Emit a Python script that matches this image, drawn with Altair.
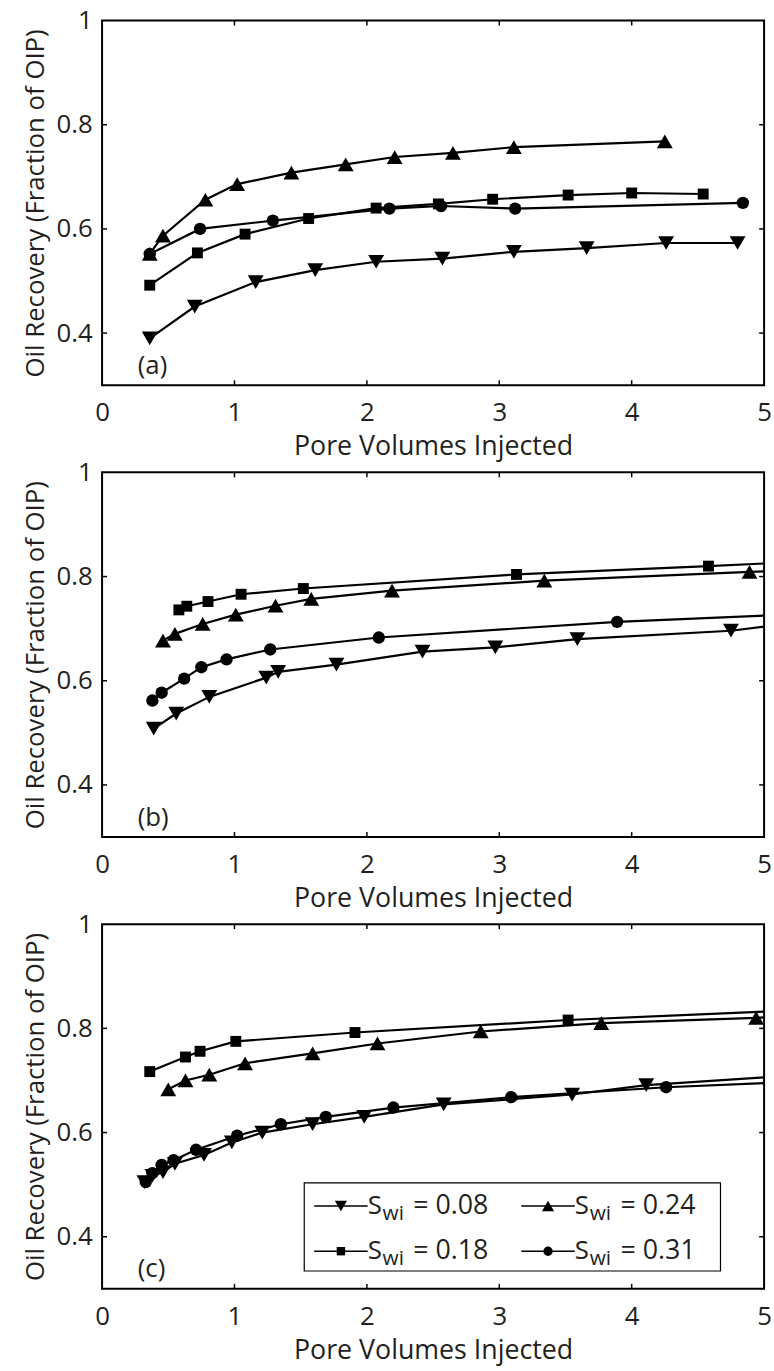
import altair as alt
import pandas as pd

# ---------------- data ----------------
SERIES = ["0.08", "0.18", "0.24", "0.31"]
SHAPES = ["triangle-down", "square", "triangle-up", "circle"]
X_TICKS = [0, 1, 2, 3, 4, 5]
Y_TICKS = [0.4, 0.6, 0.8, 1.0]
X_INNER = [1, 2, 3, 4]
Y_INNER = [0.4, 0.6, 0.8]
PANEL_TAGS = ["(a)", "(b)", "(c)"]

# panel (a)
A_X_008 = [0.36, 0.70, 1.16, 1.61, 2.07, 2.57, 3.11, 3.66, 4.26, 4.80]
A_Y_008 = [0.390, 0.451, 0.498, 0.521, 0.537, 0.543, 0.556, 0.563, 0.573, 0.573]
A_X_018 = [0.36, 0.72, 1.08, 1.56, 2.07, 2.54, 2.95, 3.52, 4.00, 4.54]
A_Y_018 = [0.492, 0.554, 0.590, 0.620, 0.640, 0.648, 0.657, 0.665, 0.669, 0.667]
A_X_024 = [0.36, 0.46, 0.78, 1.02, 1.43, 1.84, 2.21, 2.65, 3.11, 4.25]
A_Y_024 = [0.552, 0.587, 0.656, 0.686, 0.708, 0.724, 0.738, 0.746, 0.757, 0.768]
A_X_031 = [0.36, 0.74, 1.29, 2.17, 2.56, 3.12, 4.84]
A_Y_031 = [0.552, 0.600, 0.616, 0.639, 0.644, 0.639, 0.650]

# panel (b)  (lines continue to the right edge at x = 5)
B_X_008 = [0.39, 0.56, 0.81, 1.24, 1.33, 1.77, 2.42, 2.97, 3.59, 4.75]
B_Y_008 = [0.508, 0.537, 0.569, 0.606, 0.617, 0.631, 0.656, 0.664, 0.680, 0.696]
B_X_018 = [0.58, 0.64, 0.80, 1.05, 1.52, 3.13, 4.58]
B_Y_018 = [0.736, 0.743, 0.752, 0.766, 0.777, 0.804, 0.820]
B_X_024 = [0.46, 0.55, 0.76, 1.01, 1.31, 1.58, 2.19, 3.34, 4.89]
B_Y_024 = [0.677, 0.690, 0.709, 0.727, 0.744, 0.757, 0.773, 0.792, 0.809]
B_X_031 = [0.38, 0.45, 0.62, 0.75, 0.94, 1.27, 2.09, 3.89]
B_Y_031 = [0.562, 0.577, 0.604, 0.626, 0.641, 0.660, 0.683, 0.713]
B_EDGE = [0.704, 0.825, 0.810, 0.725]

# panel (c)
C_X_008 = [0.32, 0.38, 0.46, 0.55, 0.77, 0.98, 1.21, 1.59, 1.98, 2.58, 3.55, 4.11]
C_Y_008 = [0.505, 0.517, 0.524, 0.540, 0.557, 0.581, 0.600, 0.616, 0.630, 0.654, 0.673, 0.691]
C_X_018 = [0.36, 0.63, 0.74, 1.01, 1.91, 3.52]
C_Y_018 = [0.717, 0.745, 0.756, 0.775, 0.792, 0.816]
C_X_024 = [0.50, 0.63, 0.81, 1.08, 1.59, 2.08, 2.86, 3.77, 4.94]
C_Y_024 = [0.683, 0.700, 0.711, 0.733, 0.752, 0.771, 0.794, 0.810, 0.820]
C_X_031 = [0.33, 0.38, 0.45, 0.54, 0.71, 1.02, 1.35, 1.69, 2.20, 3.09, 4.26]
C_Y_031 = [0.505, 0.522, 0.538, 0.547, 0.567, 0.594, 0.616, 0.630, 0.648, 0.668, 0.687]
C_EDGE = [0.706, 0.832, 0.821, 0.695]

# ---------------- styling ----------------
W, H = 668, 368
FONT = "Open Sans"
TXT = "#231f20"
MARK_SIZES = [256, 121, 256, 156]
LEG_SIZES = [150, 72, 150, 90]


def build_df(xs, ys, edges=None):
    rows = []
    for i, s in enumerate(SERIES):
        for x, y in zip(xs[i], ys[i]):
            rows.append({"pv": x, "rec": y, "swi": s, "m": 1})
        if edges is not None:
            rows.append({"pv": 5.0, "rec": edges[i], "swi": s, "m": 0})
    return pd.DataFrame(rows)


DF_A = build_df([A_X_008, A_X_018, A_X_024, A_X_031], [A_Y_008, A_Y_018, A_Y_024, A_Y_031])
DF_B = build_df([B_X_008, B_X_018, B_X_024, B_X_031], [B_Y_008, B_Y_018, B_Y_024, B_Y_031], B_EDGE)
DF_C = build_df([C_X_008, C_X_018, C_X_024, C_X_031], [C_Y_008, C_Y_018, C_Y_024, C_Y_031], C_EDGE)

x_enc = alt.X(
    "pv:Q",
    scale=alt.Scale(domain=[0, 5], nice=False, zero=False),
    axis=alt.Axis(
        values=X_TICKS, format="d", ticks=False, tickSize=0, domain=False, grid=False,
        labelFlush=False, labelOverlap=False, labelPadding=15, labelFontSize=26,
        labelFont=FONT, labelColor=TXT, title="Pore Volumes Injected", titleFont=FONT,
        titleFontSize=27, titleFontWeight="normal", titleColor=TXT, titlePadding=8,
    ),
)
y_enc = alt.Y(
    "rec:Q",
    scale=alt.Scale(domain=[0.3, 1.0], nice=False, zero=False),
    axis=alt.Axis(
        values=Y_TICKS, format=".1~f", ticks=False, tickSize=0, domain=False, grid=False,
        labelFlush=False, labelOverlap=False, labelPadding=10, labelFontSize=26,
        labelFont=FONT, labelColor=TXT, title="Oil Recovery (Fraction of OIP)", titleFont=FONT,
        titleFontSize=26, titleFontWeight="normal", titleColor=TXT, titlePadding=8,
    ),
)


def panel(df, tag, with_legend=False):
    base = alt.Chart(df)
    lines = base.mark_line(color="black", strokeWidth=2.2).encode(
        x=x_enc, y=y_enc, detail="swi:N", order="pv:Q"
    )
    layers = [lines]
    for i, s in enumerate(SERIES):
        pts = base.transform_filter(
            f"datum.m == 1 && datum.swi == '{s}'"
        ).mark_point(
            filled=True, color="black", opacity=1, strokeWidth=0,
            shape=SHAPES[i], size=MARK_SIZES[i],
        ).encode(x=x_enc, y=y_enc)
        layers.append(pts)

    xt = alt.Chart(pd.DataFrame({"pv": X_INNER}))
    yt = alt.Chart(pd.DataFrame({"rec": Y_INNER}))
    tk = dict(color="black", strokeWidth=1.5)
    t_bot = xt.mark_rule(**tk).encode(x=x_enc, y=alt.value(H), y2=alt.value(H - 5))
    t_top = xt.mark_rule(**tk).encode(x=x_enc, y=alt.value(0), y2=alt.value(5))
    t_left = yt.mark_rule(**tk).encode(y=y_enc, x=alt.value(0), x2=alt.value(5))
    t_right = yt.mark_rule(**tk).encode(y=y_enc, x=alt.value(W - 5), x2=alt.value(W))

    tag_txt = alt.Chart(pd.DataFrame({"t": [tag]})).mark_text(
        align="left", baseline="alphabetic", fontSize=26, font=FONT, color=TXT
    ).encode(x=alt.value(36), y=alt.value(H - 11.5), text="t:N")

    layers += [t_bot, t_top, t_left, t_right, tag_txt]

    if with_legend:
        one = pd.DataFrame({"a": [0]})
        box = alt.Chart(one).mark_rect(fill="white", stroke="black", strokeWidth=1.2).encode(
            x=alt.value(204), x2=alt.value(624), y=alt.value(261), y2=alt.value(350)
        )
        layers.append(box)
        # legend layout: (series index, column line start, row marker y)
        order = [(0, 214, 284.3), (2, 423, 284.3), (1, 214, 330), (3, 423, 330)]
        for idx, lx, ly in order:
            s = SERIES[idx]
            ln = alt.Chart(one).mark_rule(color="black", strokeWidth=1.5).encode(
                x=alt.value(lx), x2=alt.value(lx + 54), y=alt.value(ly)
            )
            mk = alt.Chart(one).mark_point(
                filled=True, color="black", opacity=1, strokeWidth=0,
                shape=SHAPES[idx], size=LEG_SIZES[idx],
            ).encode(x=alt.value(lx + 27), y=alt.value(ly))
            tx0 = lx + 54
            t_s = alt.Chart(pd.DataFrame({"t": ["S"]})).mark_text(
                align="left", baseline="alphabetic", fontSize=26, font=FONT, color=TXT
            ).encode(x=alt.value(tx0), y=alt.value(ly + 8), text="t:N")
            t_sub = alt.Chart(pd.DataFrame({"t": ["wi"]})).mark_text(
                align="left", baseline="alphabetic", fontSize=21, font=FONT, color=TXT
            ).encode(x=alt.value(tx0 + 15), y=alt.value(ly + 14), text="t:N")
            t_val = alt.Chart(pd.DataFrame({"t": ["= " + s]})).mark_text(
                align="left", baseline="alphabetic", fontSize=27, font=FONT, color=TXT
            ).encode(x=alt.value(tx0 + 46), y=alt.value(ly + 8), text="t:N")
            layers += [ln, mk, t_s, t_sub, t_val]

    return alt.layer(*layers).properties(width=W, height=H)


pa = panel(DF_A, PANEL_TAGS[0])
pb = panel(DF_B, PANEL_TAGS[1])
pc = panel(DF_C, PANEL_TAGS[2], with_legend=True)

chart = (
    alt.vconcat(pa, pb, pc, spacing=87.9, bounds="flush")
    .properties(padding={"left": 21, "top": 0.5, "right": 1, "bottom": 4}, background="white")
    .configure_view(stroke="black", strokeWidth=2)
)

chart.save("out.html", embed_options={"renderer": "svg", "actions": False})
